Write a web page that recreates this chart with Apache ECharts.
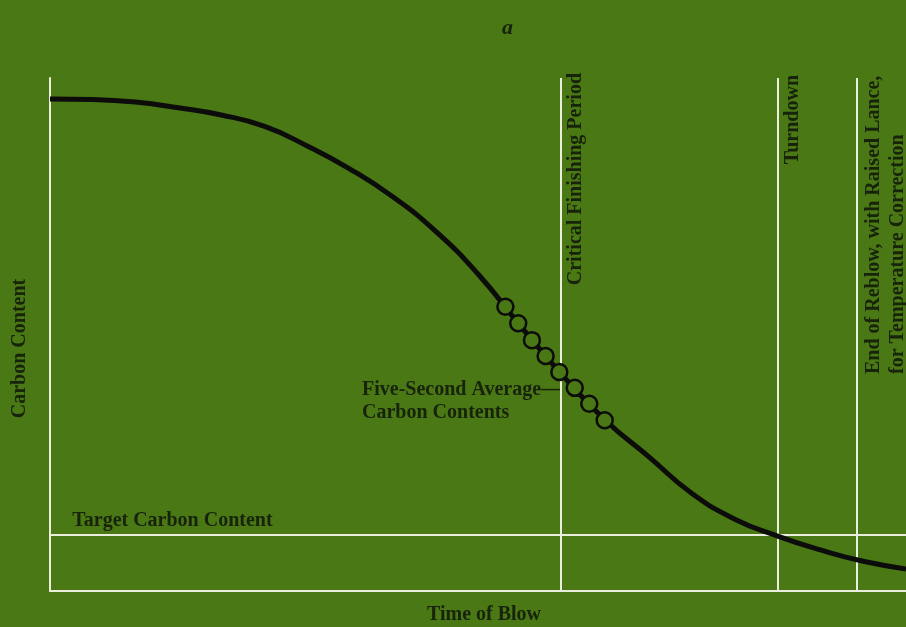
<!DOCTYPE html>
<html>
<head>
<meta charset="utf-8">
<script src="https://cdn.jsdelivr.net/npm/echarts@6/dist/echarts.min.js"></script>
<style>
html,body{margin:0;padding:0;background:#4a7815;}
#chart{width:906px;height:627px;}
</style>
</head>
<body>
<div id="chart"></div>
<script>
// carbon curve, time of blow (0-100) vs carbon content (0-100)
var curveX=[0,5,10,15,20,25,30,35,40,45,50,55,60,65,70,75,80,85,90,95,100];
var curveY=[95.9,95.8,95.3,94.2,92.8,90.6,86.8,82.3,76.9,70.2,61.8,51.6,41.8,33.1,26.1,19.0,14.0,10.7,8.0,5.8,4.3];
// five-second average readings
var avgX=[53.2,54.7,56.3,57.9,59.5,61.3,63.0,64.8];
var avgY=[55.4,52.2,48.9,45.8,42.7,39.6,36.5,33.3];
// events along time axis
var eventNames=['Critical Finishing Period','Turndown','End of Reblow, with Raised Lance,\nfor Temperature Correction'];
var eventTimes=[59.7,85.0,94.2];
var targetCarbon=10.9;

var bg='#4a7815';
var ink='#17230a';
var white='#e9efdc';
var font='"Liberation Serif","DejaVu Serif",serif';

var chart=echarts.init(document.getElementById('chart'));

var curve=[];
for(var i=0;i<curveX.length;i++){curve.push([curveX[i],curveY[i]]);}
var avgPts=[];
for(var j=0;j<avgX.length;j++){avgPts.push([avgX[j],avgY[j]]);}

var vLines=[];
for(var k=0;k<eventTimes.length;k++){vLines.push({xAxis:eventTimes[k]});}
vLines.push({yAxis:targetCarbon});

var option={
	backgroundColor:bg,
	animation:false,
	title:{
		text:'a',
		left:497,
		top:12,
		textStyle:{fontFamily:font,fontStyle:'italic',fontWeight:'bold',fontSize:22,color:ink}
	},
	grid:{left:50,right:0,top:78,bottom:36,outerBoundsMode:'none',containLabel:false},
	xAxis:{
		type:'value',min:0,max:100,
		name:'Time of Blow',
		nameLocation:'middle',
		nameGap:14,
		nameTextStyle:{fontFamily:font,fontSize:20,fontWeight:'bold',color:ink,verticalAlign:'top',padding:[0,0,0,12]},
		axisLine:{lineStyle:{color:white,width:2}},
		axisTick:{show:false},axisLabel:{show:false},splitLine:{show:false}
	},
	yAxis:{
		type:'value',min:0,max:100,
		name:'Carbon Content',
		nameLocation:'middle',
		nameGap:20,
		nameRotate:90,
		nameTextStyle:{fontFamily:font,fontSize:20,fontWeight:'bold',color:ink,padding:[0,28,0,0]},
		axisLine:{show:true,lineStyle:{color:white,width:2}},
		axisTick:{show:false},axisLabel:{show:false},splitLine:{show:false}
	},
	series:[
		{
			type:'line',
			data:curve,
			smooth:0.5,
			showSymbol:false,
			lineStyle:{color:'#0c0c0a',width:5},
			z:3,
			markLine:{
				silent:true,
				symbol:'none',
				label:{show:false},
				lineStyle:{color:white,width:2,type:'solid'},
				data:vLines,
				z:1
			}
		},
		{
			type:'scatter',
			data:avgPts,
			symbol:'circle',
			symbolSize:16,
			itemStyle:{color:bg,borderColor:'#0c0c0a',borderWidth:2.5,opacity:1},
			z:4
		}
	]
};
chart.setOption(option);

// annotations anchored to the chart's scales
function px(x,y){return chart.convertToPixel({gridIndex:0},[x,y]);}
var txt={fontFamily:font,fontSize:20,fontWeight:'bold',fill:ink};
var g=[];
var pCrit=px(eventTimes[0],100);
g.push({type:'text',x:pCrit[0]+5,y:pCrit[1]-5,rotation:Math.PI/2,
	style:Object.assign({text:eventNames[0],align:'right',verticalAlign:'top'},txt)});
var pTurn=px(eventTimes[1],100);
g.push({type:'text',x:pTurn[0]+5,y:pTurn[1]-3,rotation:Math.PI/2,
	style:Object.assign({text:eventNames[1],align:'right',verticalAlign:'top'},txt)});
var pReb=px(eventTimes[2],42.3);
g.push({type:'text',x:pReb[0]+5,y:pReb[1],rotation:Math.PI/2,
	style:Object.assign({text:eventNames[2],align:'left',verticalAlign:'top',lineHeight:24},txt)});
var pTgt=px(2.6,targetCarbon);
g.push({type:'text',x:pTgt[0],y:pTgt[1]-4,
	style:Object.assign({text:'Target Carbon Content',align:'left',verticalAlign:'bottom'},txt)});
var pAvg=px(59.7,40.2);
g.push({type:'text',x:pAvg[0]-199,y:pAvg[1]-6,
	style:Object.assign({text:'Five-Second Average\u2014\nCarbon Contents',align:'left',verticalAlign:'top',lineHeight:23},txt)});
chart.setOption({graphic:g});
</script>
</body>
</html>
